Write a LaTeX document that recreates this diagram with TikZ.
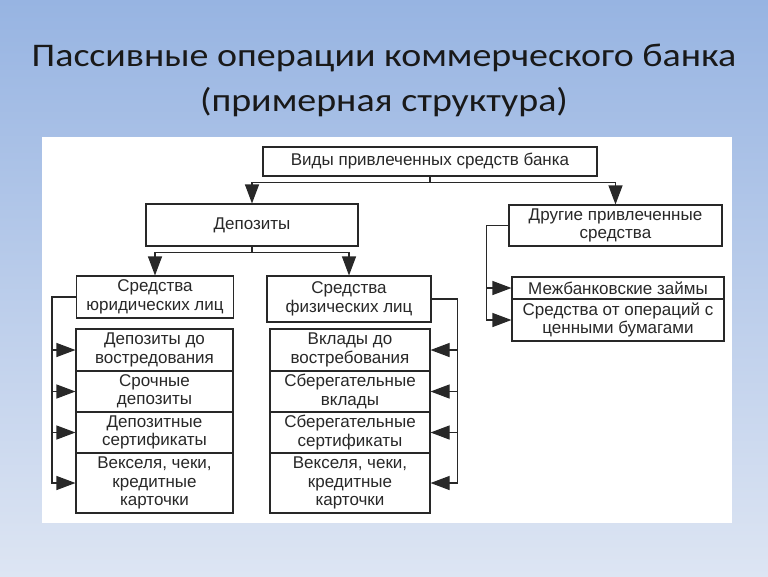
\documentclass[tikz,border=0pt]{standalone}
\usepackage{fontspec}
\setmainfont{Liberation Sans}
\newfontfamily\titlefont[FakeStretch=1.15]{Carlito}
\usetikzlibrary{arrows.meta}

\definecolor{slidetop}{RGB}{151,180,226}
\definecolor{slidebottom}{RGB}{221,229,243}
\definecolor{frame}{RGB}{40,40,40}
\definecolor{ink}{RGB}{40,40,40}

\tikzset{
    box/.style={draw=frame, fill=white, line width=1.1pt, align=center,
        inner sep=0pt, text=ink, font=\fontsize{17}{18.5}\selectfont},
    link/.style={draw=frame, line width=1.1pt,
        -{Triangle[length=19pt, width=14pt]}},
    heading/.style={anchor=base, text=black!90,
        font=\titlefont\fontsize{33}{40}\selectfont},
}

\begin{document}
\begin{tikzpicture}[x=1pt, y=-1pt]
    % slide
    \shade[top color=slidetop, bottom color=slidebottom]
        (0,0) rectangle (768,576);
    \fill[white] (42,137) rectangle (732,523);
    \node[heading] (title) at (384,66) {Пассивные операции коммерческого банка};
    \node[heading] (subtitle) at (384,111) {(примерная структура)};

    % upper levels
    \node[box, minimum width=334pt, minimum height=29pt] (kinds)
        at (430,161.5) {Виды привлеченных средств банка};
    \node[box, minimum width=212pt, minimum height=42pt] (dep)
        at (252,225) {Депозиты};
    \node[box, minimum width=213pt, minimum height=41pt] (other)
        at (615.5,225.5) {Другие привлеченные\\средства};
    \node[box, minimum width=157pt, minimum height=42pt] (jur)
        at (155,297) {Средства\\юридических лиц};
    \node[box, minimum width=164pt, minimum height=46pt] (fiz)
        at (349,299) {Средства\\физических лиц};

    % legal entities
    \node[box, minimum width=157pt, minimum height=42pt] (jur1)
        at (154.5,350) {Депозиты до\\востредования};
    \node[box, minimum width=157pt, minimum height=41pt] (jur2)
        at (154.5,391.5) {Срочные\\депозиты};
    \node[box, minimum width=157pt, minimum height=41pt] (jur3)
        at (154.5,432.5) {Депозитные\\сертификаты};
    \node[box, minimum width=157pt, minimum height=60pt] (jur4)
        at (154.5,483) {Векселя, чеки,\\кредитные\\карточки};

    % individuals
    \node[box, minimum width=160pt, minimum height=42pt] (fiz1)
        at (350,350) {Вклады до\\востребования};
    \node[box, minimum width=160pt, minimum height=41pt] (fiz2)
        at (350,391.5) {Сберегательные\\вклады};
    \node[box, minimum width=160pt, minimum height=41pt] (fiz3)
        at (350,432.5) {Сберегательные\\сертификаты};
    \node[box, minimum width=160pt, minimum height=60pt] (fiz4)
        at (350,483) {Векселя, чеки,\\кредитные\\карточки};

    % other funds
    \node[box, minimum width=212pt, minimum height=22pt] (oth1)
        at (618,288) {Межбанковские займы};
    \node[box, minimum width=212pt, minimum height=42pt] (oth2)
        at (618,320) {Средства от операций с\\ценными бумагами};

    % connectors
    \draw[link] (kinds.south) -- ++(0,6) -| (dep.north);
    \draw[link] (kinds.south) -- ++(0,6) -| (other.north);
    \draw[link] (dep.south) -- ++(0,6) -| (jur.north);
    \draw[link] (dep.south) -- ++(0,6) -| (fiz.north);
    \foreach \i in {1,...,4} {
        \draw[link] (jur.west) -- ++(-24,0) |- (jur\i.west);
        \draw[link] (fiz.east) -- ++(26,0) |- (fiz\i.east);
    }
    \foreach \i in {1,2}
        \draw[link] (other.west) -- ++(-22,0) |- (oth\i.west);
\end{tikzpicture}
\end{document}
